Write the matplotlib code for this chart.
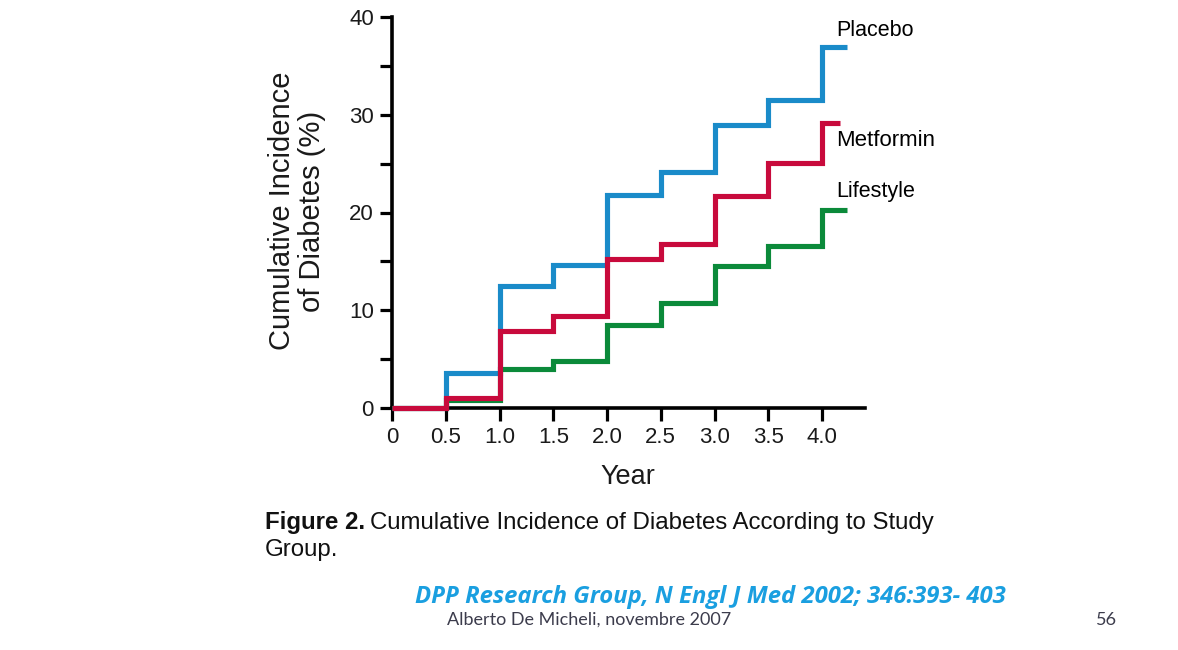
import matplotlib
matplotlib.use("Agg")
import matplotlib.pyplot as plt
from matplotlib.ticker import MultipleLocator

years = [0, 0.5, 1.0, 1.5, 2.0, 2.5, 3.0, 3.5, 4.0]
placebo = [0, 3.6, 12.5, 14.6, 21.8, 24.1, 29.0, 31.5, 36.9]
metformin = [0, 1.05, 7.9, 9.4, 15.2, 16.8, 21.7, 25.1, 29.2]
lifestyle = [0, 0.8, 4.0, 4.8, 8.5, 10.7, 14.5, 16.6, 20.3]
end_x = {"Placebo": 4.23, "Metformin": 4.17, "Lifestyle": 4.23}
xtick_labels = ["0", "0.5", "1.0", "1.5", "2.0", "2.5", "3.0", "3.5", "4.0"]
yticks = [0, 10, 20, 30, 40]

colors = {"Placebo": "#1a8bc9", "Metformin": "#c80a3c", "Lifestyle": "#0b8a3a"}
series = {"Placebo": placebo, "Lifestyle": lifestyle, "Metformin": metformin}

plt.rcParams['font.family'] = ['Liberation Sans', 'DejaVu Sans']

fig = plt.figure(figsize=(11.78, 6.5), dpi=100)
W, H = 1178, 650
ax = fig.add_axes([392 / W, 1 - 408 / H, (865 - 392) / W, (408 - 17) / H])

for name in ["Placebo", "Lifestyle", "Metformin"]:
    vals = series[name]
    xs = years + [end_x[name]]
    ys = vals + [vals[-1]]
    ax.step(xs, ys, where="post", color=colors[name], lw=3.7,
            solid_joinstyle="miter", solid_capstyle="butt", clip_on=False, zorder=3)

ax.set_xlim(0, 4.4)
ax.set_ylim(0, 40)
ax.set_xticks(years)
ax.set_xticklabels(xtick_labels)
ax.set_yticks(yticks)
ax.yaxis.set_minor_locator(MultipleLocator(5))
ax.tick_params(axis="both", which="both", direction="out", length=9, width=2.3,
               labelsize=16, color="black", pad=4, labelcolor="#1a1a1a")
ax.tick_params(axis="x", pad=5)
for s in ["top", "right"]:
    ax.spines[s].set_visible(False)
for s in ["left", "bottom"]:
    ax.spines[s].set_linewidth(2.6)
ax.patch.set_visible(False)

# series labels
fig.text(836 / W, 1 - 30 / H, "Placebo", fontsize=15.5, ha="left", va="center")
fig.text(836 / W, 1 - 141 / H, "Metformin", fontsize=16, ha="left", va="center")
fig.text(836 / W, 1 - 191 / H, "Lifestyle", fontsize=15.5, ha="left", va="center")

# axis labels
fig.text(297 / W, 1 - 211 / H, "Cumulative Incidence\nof Diabetes (%)", fontsize=21,
         rotation=90, ha="center", va="center", linespacing=1.05, color="#1a1a1a")
fig.text(628 / W, 1 - 477 / H, "Year", fontsize=19.5, ha="center", va="center", color="#1a1a1a")

# caption
cap = fig.text(265 / W, 1 - 523 / H, "Figure 2.", fontsize=17.3, ha="left", va="center",
               fontweight="bold", color="#111111")
fig.canvas.draw()
bb = cap.get_window_extent()
fig.text((bb.x1 + 5) / W, 1 - 523 / H, "Cumulative Incidence of Diabetes According to Study",
         fontsize=17.3, ha="left", va="center", color="#111111")
fig.text(265 / W, 1 - 550 / H, "Group.", fontsize=17.3, ha="left", va="center", color="#111111")

fig.text(415 / W, 1 - 597 / H, "DPP Research Group, N Engl J Med 2002; 346:393- 403",
         fontsize=17.2, ha="left", va="center", color="#1a9fe0", fontweight="bold",
         fontstyle="italic", family=["Open Sans", "DejaVu Sans"])
fig.text(447 / W, 1 - 620 / H, "Alberto De Micheli, novembre 2007", fontsize=13,
         ha="left", va="center", color="#3c3c4c", family=["Lato", "DejaVu Sans"])
fig.text(1096 / W, 1 - 620 / H, "56", fontsize=13, ha="left", va="center",
         color="#3c3c4c", family=["Lato", "DejaVu Sans"])

fig.savefig("out.png", dpi=100)
